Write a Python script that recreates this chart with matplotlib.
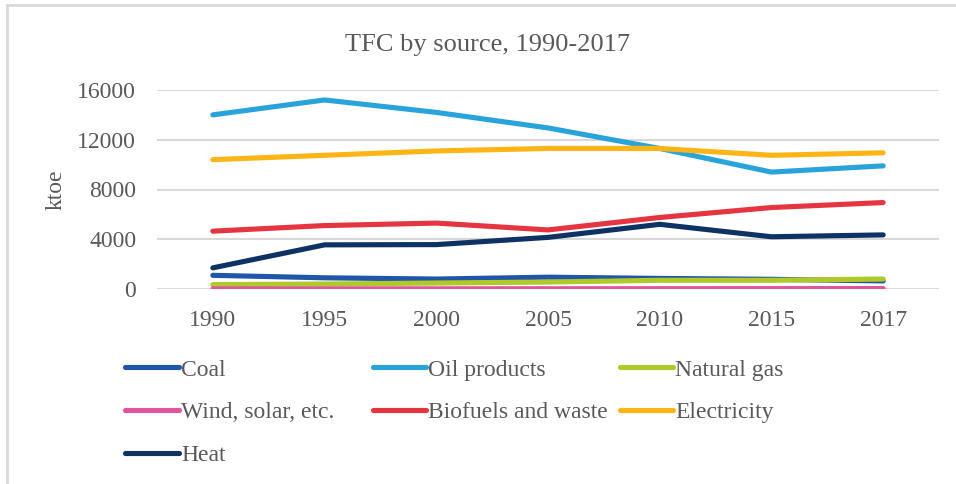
import matplotlib.pyplot as plt
from matplotlib.patches import Rectangle

plt.rcParams['font.family'] = ['Liberation Serif', 'DejaVu Serif']

# TFC by source, ktoe
years = ['1990', '1995', '2000', '2005', '2010', '2015', '2017']
coal = [1100, 900, 800, 950, 850, 780, 650]
oil_products = [14000, 15200, 14200, 12950, 11300, 9400, 9900]
natural_gas = [350, 400, 480, 560, 700, 700, 800]
wind_solar = [10, 10, 15, 20, 25, 30, 35]
biofuels = [4650, 5100, 5300, 4750, 5750, 6550, 6950]
electricity = [10400, 10750, 11100, 11300, 11300, 10750, 10950]
heat = [1700, 3550, 3570, 4150, 5200, 4200, 4350]

series = [
    ('Coal', coal, '#1f56a8'),
    ('Oil products', oil_products, '#29a3db'),
    ('Natural gas', natural_gas, '#afc92a'),
    ('Wind, solar, etc.', wind_solar, '#df559b'),
    ('Biofuels and waste', biofuels, '#e53540'),
    ('Electricity', electricity, '#fdb515'),
    ('Heat', heat, '#0f3264'),
]

text_color = '#595959'
grid_color = '#d9d9d9'

fig = plt.figure(figsize=(9.56, 4.84), dpi=100)
ax = fig.add_axes([157 / 956, 1 - 289 / 484, 782 / 956, 199 / 484])

x = list(range(len(years)))
handles = {}
for name, vals, color in series:
    line, = ax.plot(x, vals, color=color, lw=3.7, solid_capstyle='round',
                    solid_joinstyle='round', label=name)
    handles[name] = line

ax.set_xlim(-0.5, len(years) - 0.5)
ax.set_ylim(0, 16000)
ax.set_yticks([0, 4000, 8000, 12000, 16000])
ax.set_xticks(x)
ax.set_xticklabels(years)
ax.yaxis.grid(True, color=grid_color, lw=1.5)
ax.set_axisbelow(True)
for s in ax.spines.values():
    s.set_visible(False)
ax.tick_params(length=0, labelsize=17, colors=text_color)
ax.tick_params(axis='y', pad=15)
ax.tick_params(axis='x', pad=15)
ax.set_ylabel('ktoe', fontsize=17, color=text_color, labelpad=7.5)

fig.text(488 / 956, 1 - 51 / 484, 'TFC by source, 1990-2017', ha='center',
         va='baseline', fontsize=19, color=text_color)

# legend laid out in three fixed-width columns
columns = [
    (['Coal', 'Wind, solar, etc.', 'Heat'], 125.5),
    (['Oil products', 'Biofuels and waste'], 372.5),
    (['Natural gas', 'Electricity'], 619.5),
]
for names, xpos in columns:
    leg = fig.legend([handles[n] for n in names], names,
                     loc='upper left', bbox_to_anchor=(xpos / 956, 1 - 359 / 484),
                     frameon=False, fontsize=17, handlelength=2.25,
                     handletextpad=0.12, labelspacing=0.9, borderpad=0,
                     borderaxespad=0)
    for t in leg.get_texts():
        t.set_color(text_color)

# chart frame
fig.patches.append(Rectangle((7 / 956, -0.1), 1.2, 1 - 5 / 484 + 0.1,
                             transform=fig.transFigure, fill=False,
                             edgecolor=grid_color, lw=2))

fig.savefig('out.png', dpi=100)
